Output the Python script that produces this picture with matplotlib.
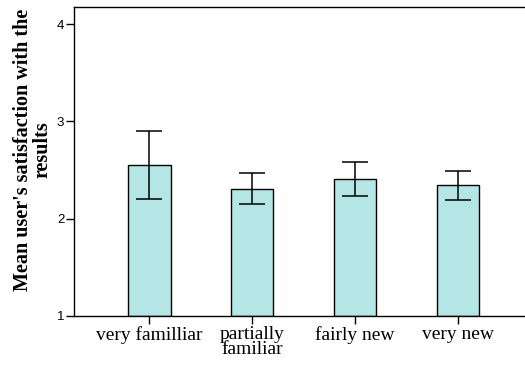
import matplotlib.pyplot as plt
import numpy as np

# Familiarity groups and mean satisfaction with error margins
categories = ['very familliar', 'partially\nfamiliar', 'fairly new', 'very new']
means = [2.55, 2.31, 2.41, 2.345]
errors = [0.35, 0.155, 0.175, 0.15]
yticks = [1, 2, 3, 4]

serif = 'Liberation Serif'
sans = 'Liberation Sans'

fig = plt.figure(figsize=(5.25, 3.68), dpi=100)
ax = fig.add_axes([74 / 525, 1 - 316 / 368, 1 - 74 / 525 + 0.002, (316 - 7) / 368])

x = np.arange(len(categories))
ax.bar(x, [m - 1 for m in means], bottom=1, width=0.41, color='#b4e6e6',
       edgecolor='black', linewidth=1.0, zorder=2)
ax.errorbar(x, means, yerr=errors, fmt='none', ecolor='black',
            elinewidth=1.1, capsize=9.2, capthick=1.1, zorder=3)

ax.set_ylim(1, 4.175)
ax.set_xlim(-0.733, 3.66)
ax.set_yticks(yticks)
ax.set_yticklabels([str(t) for t in yticks], fontfamily=sans, fontsize=9.5)
ax.set_xticks(x)
ax.set_xticklabels(categories, fontfamily=serif, fontsize=14, linespacing=0.9)
ax.tick_params(axis='y', length=6, width=1.0, pad=1)
ax.tick_params(axis='x', length=6, width=1.0, pad=1)

ax.spines['right'].set_visible(False)
for side in ['left', 'bottom', 'top']:
    ax.spines[side].set_linewidth(1.0)

# Two-line bold axis title
fig.text(33 / 525, 1 - 150 / 368, "Mean user's satisfaction with the\nresults",
         rotation=90, ha='center', va='center', fontfamily=serif,
         fontweight='bold', fontsize=14.5, linespacing=0.95)

fig.savefig('out.png', dpi=100)
